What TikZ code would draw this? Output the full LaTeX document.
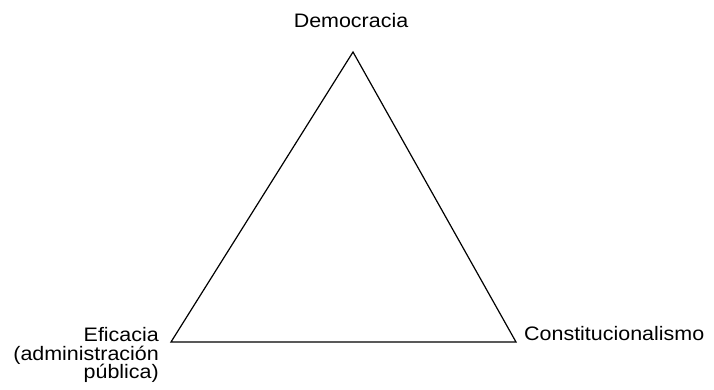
\documentclass[tikz,border=0pt]{standalone}
\usepackage{fontspec}
\setmainfont{Liberation Sans}[FakeStretch=1.1]
\usetikzlibrary{positioning}

\begin{document}
\begin{tikzpicture}[x=1pt,y=-1pt,line join=miter,
  vertex/.style={inner sep=0pt,font=\fontsize{19.5}{18.5}\selectfont}]
\useasboundingbox (0,0) rectangle (714,390);
% corners of the triangle
\coordinate (top) at (353,52);
\coordinate (left) at (171,342);
\coordinate (right) at (516,342);
\draw[line width=1.2pt] (top) -- (left) -- (right) -- cycle;
% labels
\node[vertex,anchor=base] (dem) at (351,27.5) {Democracia};
\node[vertex,anchor=north east,align=right] (efi) at (159,327.5) {Eficacia\\(administración\\pública)};
\node[vertex,anchor=base west] (con) at (524,340.5) {Constitucionalismo};
\end{tikzpicture}
\end{document}
